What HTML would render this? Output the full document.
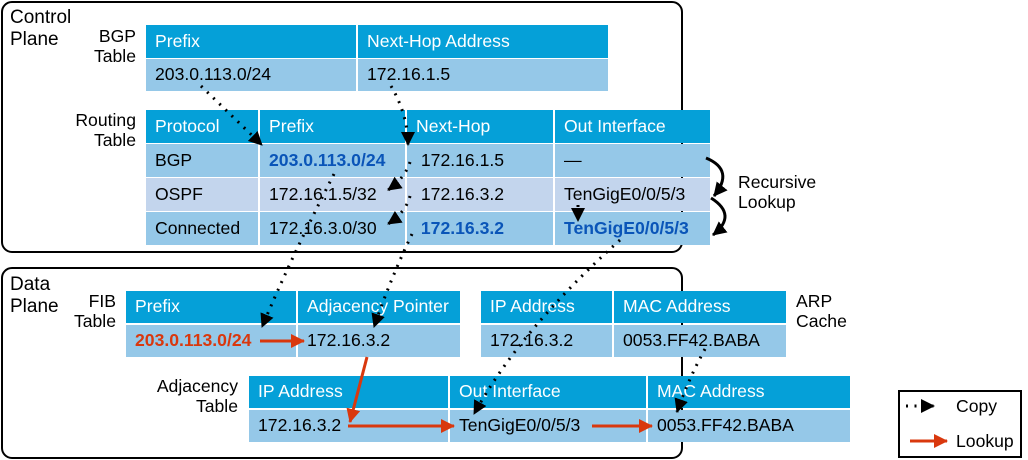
<!DOCTYPE html>
<html><head><meta charset="utf-8"><style>
body{margin:0;width:1028px;height:460px;background:#fff;position:relative;overflow:hidden;font-family:"Liberation Sans",Arial,sans-serif;}
.c{position:absolute;box-sizing:border-box;font-size:17.6px;line-height:1;display:flex;align-items:center;padding-left:9px;color:#000;white-space:nowrap;}
.h{background:#05a0d8;color:#fff;}
.r{background:#95c8e8;}
.l{background:#c3d5ed;}
.b{color:#0a55b8;font-weight:bold;}
.o{color:#d9380e;font-weight:bold;}
.t{position:absolute;font-size:17.6px;line-height:20px;text-align:right;white-space:nowrap;}
.box{position:absolute;border:2px solid #000;border-radius:11px;box-sizing:border-box;}
svg{position:absolute;left:0;top:0;}
</style></head><body>
<div class="box" style="left:1px;top:1px;width:682px;height:252px"></div>
<div class="box" style="left:1px;top:267px;width:682px;height:192px"></div>
<div class="t" style="left:10px;top:7px;font-size:19px;line-height:22px;text-align:left">Control<br>Plane</div>
<div class="t" style="left:10px;top:274px;font-size:19px;line-height:22px;text-align:left">Data<br>Plane</div>
<div class="t" style="left:76px;top:26px;width:60px">BGP<br>Table</div>
<div class="t" style="left:56px;top:110px;width:80px">Routing<br>Table</div>
<div class="t" style="left:56px;top:291px;width:60px">FIB<br>Table</div>
<div class="t" style="left:130px;top:376px;width:108px">Adjacency<br>Table</div>
<div class="t" style="left:796px;top:291px;text-align:left">ARP<br>Cache</div>
<div class="t" style="left:738px;top:172px;text-align:left">Recursive<br>Lookup</div>

<div class="c h" style="left:146px;top:25px;width:210px;height:33px">Prefix</div>
<div class="c h" style="left:358px;top:25px;width:250px;height:33px">Next-Hop Address</div>
<div class="c r" style="left:146px;top:59px;width:210px;height:32px">203.0.113.0/24</div>
<div class="c r" style="left:358px;top:59px;width:250px;height:32px">172.16.1.5</div>

<div class="c h" style="left:146px;top:110px;width:112px;height:33px">Protocol</div>
<div class="c h" style="left:260px;top:110px;width:145px;height:33px">Prefix</div>
<div class="c h" style="left:407px;top:110px;width:146px;height:33px">Next-Hop</div>
<div class="c h" style="left:555px;top:110px;width:155px;height:33px">Out Interface</div>
<div class="c r" style="left:146px;top:144px;width:112px;height:33px">BGP</div>
<div class="c r b" style="left:260px;top:144px;width:145px;height:33px">203.0.113.0/24</div>
<div class="c r" style="left:407px;top:144px;width:146px;height:33px">&nbsp;172.16.1.5</div>
<div class="c r" style="left:555px;top:144px;width:155px;height:33px">—</div>
<div class="c l" style="left:146px;top:178px;width:112px;height:33px">OSPF</div>
<div class="c l" style="left:260px;top:178px;width:145px;height:33px">172.16.1.5/32</div>
<div class="c l" style="left:407px;top:178px;width:146px;height:33px">&nbsp;172.16.3.2</div>
<div class="c l" style="left:555px;top:178px;width:155px;height:33px">TenGigE0/0/5/3</div>
<div class="c r" style="left:146px;top:212px;width:112px;height:33px">Connected</div>
<div class="c r" style="left:260px;top:212px;width:145px;height:33px">172.16.3.0/30</div>
<div class="c r b" style="left:407px;top:212px;width:146px;height:33px">&nbsp;172.16.3.2</div>
<div class="c r b" style="left:555px;top:212px;width:155px;height:33px">TenGigE0/0/5/3</div>

<div class="c h" style="left:126px;top:291px;width:170px;height:32px">Prefix</div>
<div class="c h" style="left:298px;top:291px;width:162px;height:32px">Adjacency Pointer</div>
<div class="c r o" style="left:126px;top:325px;width:170px;height:32px">203.0.113.0/24</div>
<div class="c r" style="left:298px;top:325px;width:162px;height:32px">172.16.3.2</div>

<div class="c h" style="left:481px;top:291px;width:131px;height:32px">IP Address</div>
<div class="c h" style="left:614px;top:291px;width:172px;height:32px">MAC Address</div>
<div class="c r" style="left:481px;top:325px;width:131px;height:32px">172.16.3.2</div>
<div class="c r" style="left:614px;top:325px;width:172px;height:32px">0053.FF42.BABA</div>

<div class="c h" style="left:249px;top:376px;width:199px;height:32px">IP Address</div>
<div class="c h" style="left:450px;top:376px;width:196px;height:32px">Out Interface</div>
<div class="c h" style="left:648px;top:376px;width:202px;height:32px">MAC Address</div>
<div class="c r" style="left:249px;top:410px;width:199px;height:32px">172.16.3.2</div>
<div class="c r" style="left:450px;top:410px;width:196px;height:32px">TenGigE0/0/5/3</div>
<div class="c r" style="left:648px;top:410px;width:202px;height:32px">0053.FF42.BABA</div>

<div class="box" style="left:898px;top:390px;width:124px;height:68px;border-radius:0"></div>
<div class="t" style="left:956px;top:396px;text-align:left">Copy</div>
<div class="t" style="left:956px;top:431px;text-align:left">Lookup</div>

<svg width="1028" height="460" viewBox="0 0 1028 460">
<defs>
<marker id="kb" markerWidth="14" markerHeight="14" refX="13" refY="7" orient="auto" markerUnits="userSpaceOnUse" viewBox="0 0 14 14"><path d="M0,0L14,7L0,14z" fill="#000"/></marker>
<marker id="rr" markerWidth="14" markerHeight="14" refX="13" refY="7" orient="auto" markerUnits="userSpaceOnUse" viewBox="0 0 14 14"><path d="M0,0L14,7L0,14z" fill="#d9380e"/></marker>
</defs>
<g fill="none" stroke="#000" stroke-width="3" stroke-dasharray="2 6.5" stroke-linecap="butt">
<path d="M201,86 L262,145" marker-end="url(#kb)"/>
<path d="M391,86 Q408,115 408,145" marker-end="url(#kb)"/>
<path d="M410,162 Q405,178 388,190" marker-end="url(#kb)"/>
<path d="M410,196 Q406,212 388,224" marker-end="url(#kb)"/>
<path d="M334,174 Q290,260 262,327" marker-end="url(#kb)"/>
<path d="M412,234 Q390,280 374,327" marker-end="url(#kb)"/>
<path d="M620,240 Q520,330 474,414" marker-end="url(#kb)"/>
<path d="M705,349 Q688,380 677,412" marker-end="url(#kb)"/>
<path d="M578,205 L578,221" marker-end="url(#kb)"/>
<path d="M906,406 L934,406" marker-end="url(#kb)"/>
</g>
<g fill="none" stroke="#000" stroke-width="3">
<path d="M706,158 Q735,170 714,196" marker-end="url(#kb)"/>
<path d="M711,198 Q738,215 713,235" marker-end="url(#kb)"/>
</g>
<g fill="none" stroke="#d9380e" stroke-width="3">
<path d="M260,341 L304,341" marker-end="url(#rr)"/>
<path d="M367,357 L350,422" marker-end="url(#rr)"/>
<path d="M348,426 L454,426" marker-end="url(#rr)"/>
<path d="M592,426 L652,426" marker-end="url(#rr)"/>
<path d="M910,441 L947,441" marker-end="url(#rr)"/>
</g>
</svg>
</body></html>
